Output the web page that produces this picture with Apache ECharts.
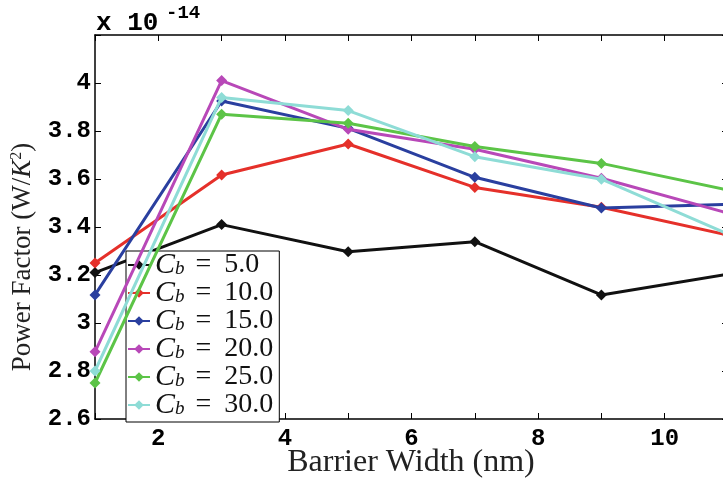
<!DOCTYPE html>
<html><head><meta charset="utf-8">
<script src="https://cdn.jsdelivr.net/npm/echarts@6/dist/echarts.min.js"></script>
<style>html,body{margin:0;padding:0;background:#fff}#c{width:723px;height:480px}</style>
</head><body><div id="c"></div>
<script>
const xValues = [1, 3, 5, 7, 9, 11];
const seriesNames = ['5.0', '10.0', '15.0', '20.0', '25.0', '30.0'];
const cb5  = [3.21, 3.41, 3.297, 3.339, 3.117, 3.203];
const cb10 = [3.25, 3.617, 3.746, 3.565, 3.482, 3.366];
const cb15 = [3.117, 3.925, 3.811, 3.607, 3.479, 3.494];
const cb20 = [2.88, 4.01, 3.807, 3.724, 3.603, 3.458];
const cb25 = [2.75, 3.87, 3.832, 3.735, 3.665, 3.554];
const cb30 = [2.80, 3.94, 3.885, 3.693, 3.599, 3.371];
const colors = ['#111111', '#e5302a', '#2a3f9f', '#b848b8', '#5cc447', '#8edcd6'];
const allData = [cb5, cb10, cb15, cb20, cb25, cb30];

const chart = echarts.init(document.getElementById('c'));
const tickFont = {fontFamily: 'Liberation Mono', fontWeight: 'bold', fontSize: 24, color: '#000'};
const series = allData.map((d, i) => ({
  name: seriesNames[i],
  type: 'line',
  data: d.map((v, j) => [xValues[j], v]),
  symbol: 'diamond',
  symbolSize: 11,
  lineStyle: {color: colors[i], width: 3},
  itemStyle: {color: colors[i]},
  z: 2 + i
}));
chart.setOption({
  animation: false,
  backgroundColor: '#fff',
  grid: {left: 95, top: 35, bottom: 61, right: -5, containLabel: false, outerBoundsMode: 'none'},
  xAxis: [{
    type: 'value', min: 1, max: 11, interval: 1,
    axisLine: {lineStyle: {color: '#000', width: 1.5}},
    axisTick: {inside: true, length: 6, lineStyle: {color: '#000'}},
    axisLabel: Object.assign({margin: 8, formatter: v => (v % 2 === 0 ? String(v) : '')}, tickFont),
    splitLine: {show: false}
  }, {
    type: 'value', position: 'top', min: 1, max: 11, interval: 1,
    axisLine: {show: true, lineStyle: {color: '#000', width: 1.5}},
    axisTick: {inside: true, length: 6, lineStyle: {color: '#000'}},
    axisLabel: {show: false}, splitLine: {show: false}
  }],
  yAxis: [{
    type: 'value', min: 2.6, max: 4.2, interval: 0.2,
    axisLine: {show: true, lineStyle: {color: '#000', width: 1.5}},
    axisTick: {inside: true, length: 6, lineStyle: {color: '#000'}},
    axisLabel: Object.assign({margin: 4, formatter: v => (v > 4.1 ? '' : String(parseFloat(v.toFixed(1))))}, tickFont),
    splitLine: {show: false}
  }, {
    type: 'value', position: 'right', min: 2.6, max: 4.2, interval: 0.2,
    axisLine: {show: true, lineStyle: {color: '#000', width: 1.5}},
    axisTick: {inside: true, length: 6, lineStyle: {color: '#000'}},
    axisLabel: {show: false}, splitLine: {show: false}
  }],
  legend: {
    orient: 'vertical', left: 126, top: 251,
    backgroundColor: '#fff', borderColor: '#000', borderWidth: 1,
    padding: [-1, 6, 2, 1],
    itemGap: -2, itemWidth: 22, itemHeight: 12,
    data: seriesNames,
    formatter: n => '{i|C}{s|b}{e|=}{t|' + n + '}',
    textStyle: {
      fontFamily: 'Liberation Serif', fontSize: 28, color: '#111', lineHeight: 26,
      rich: {
        i: {fontFamily: 'Liberation Serif', fontStyle: 'italic', fontSize: 30, color: '#111', lineHeight: 26, verticalAlign: 'middle'},
        s: {fontFamily: 'Liberation Serif', fontStyle: 'italic', fontSize: 19, color: '#111', lineHeight: 18, verticalAlign: 'bottom'},
        e: {fontFamily: 'Liberation Serif', fontSize: 28, color: '#111', padding: [0, 13, 0, 11], lineHeight: 26, verticalAlign: 'middle'},
        t: {fontFamily: 'Liberation Serif', fontSize: 28, color: '#111', lineHeight: 26, verticalAlign: 'middle'}
      }
    }
  },
  graphic: [
    {type: 'text', left: 96, top: 10, style: {text: 'x 10', font: 'bold 26px "Liberation Mono"', fill: '#000'}},
    {type: 'text', left: 166, top: 4, style: {text: '-14', font: 'bold 19px "Liberation Mono"', fill: '#000'}},
    {type: 'text', x: 411, y: 463, style: {text: 'Barrier Width (nm)', font: '32px "Liberation Serif"', fill: '#222', align: 'center', verticalAlign: 'middle'}},
    {type: 'text', x: 23, y: 257, rotation: Math.PI / 2,
      style: {text: 'Power Factor (W/{k|K}{sup|2})', font: '27px "Liberation Serif"', fill: '#222', align: 'center', verticalAlign: 'middle',
        rich: {k: {font: 'italic 27px "Liberation Serif"', fill: '#222'},
               sup: {font: '16px "Liberation Serif"', fill: '#222', padding: [0, 0, 13, 0]}}}}
  ],
  series: series
});
</script></body></html>
